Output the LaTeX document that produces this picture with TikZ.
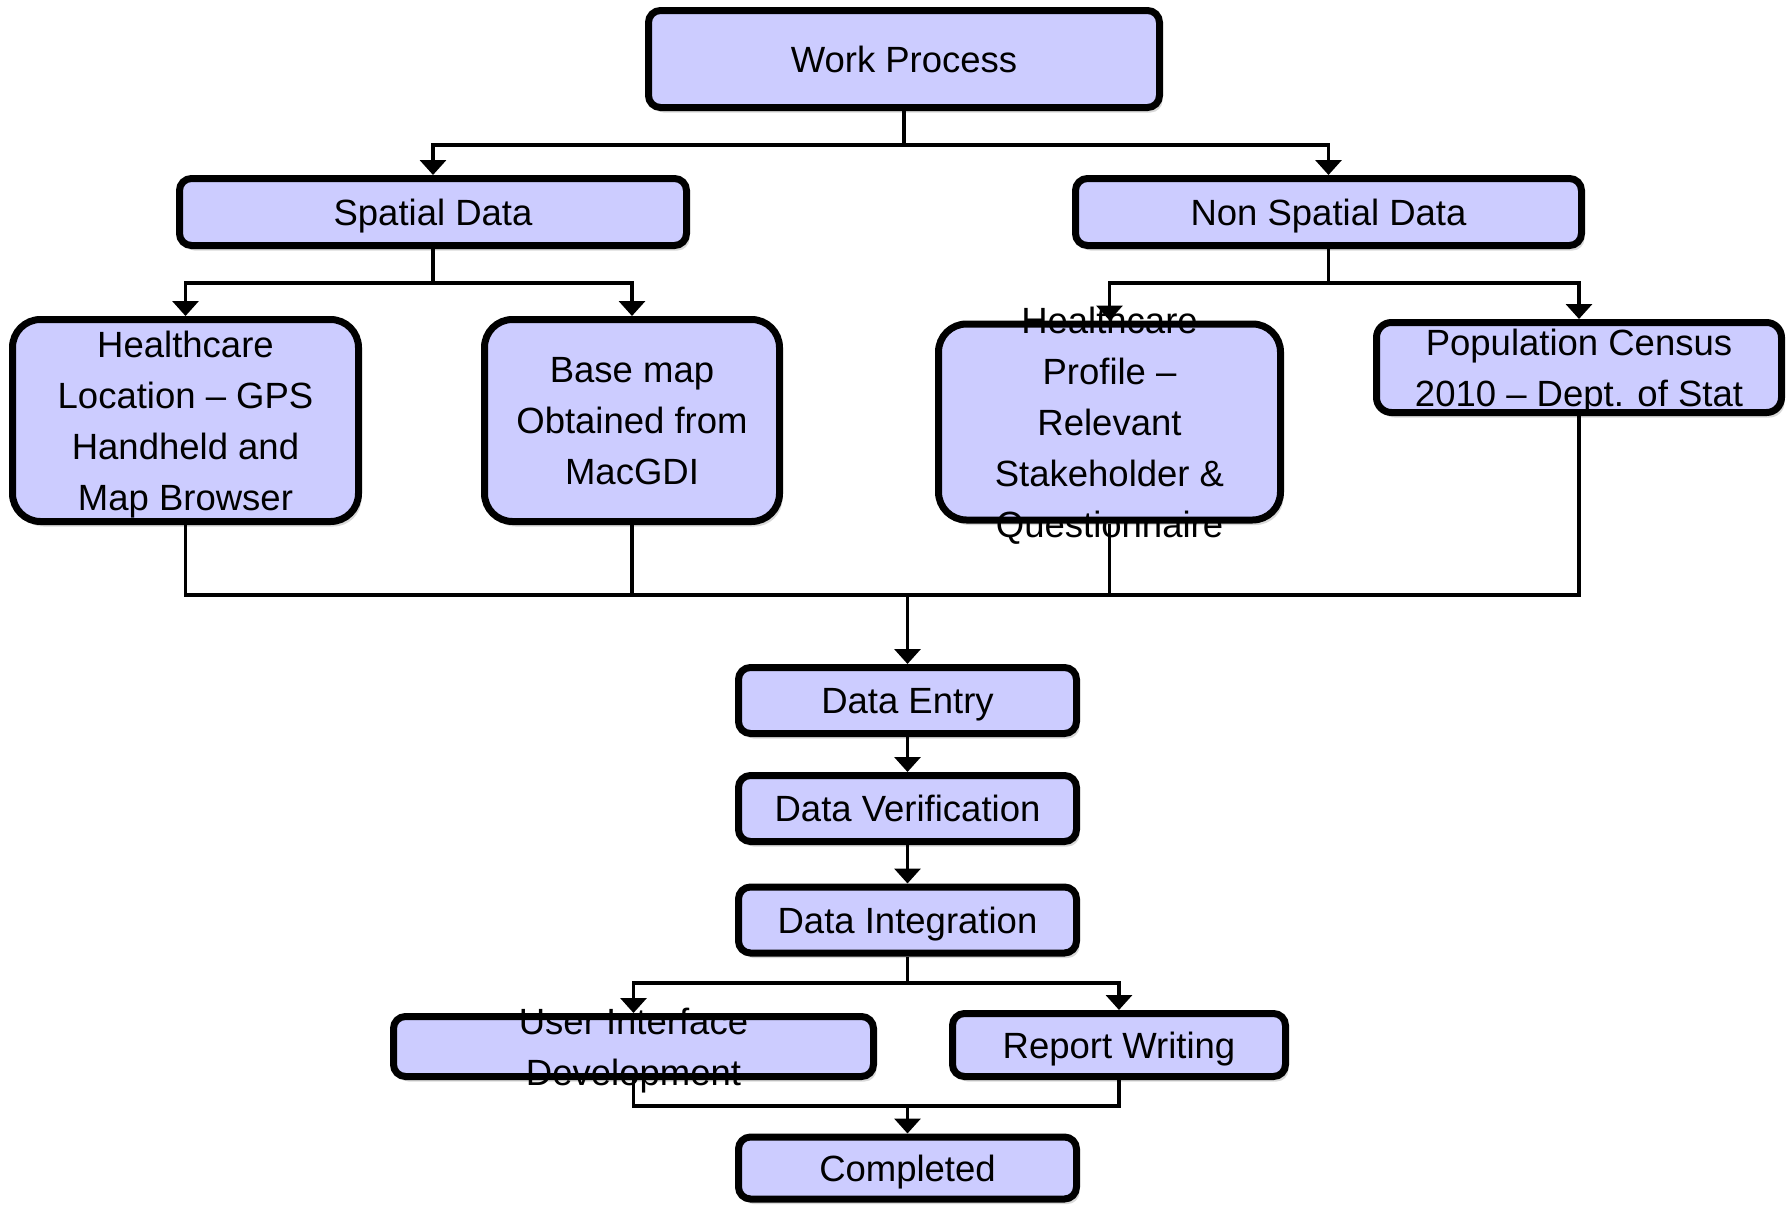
\documentclass[tikz,border=0pt]{standalone}
\usepackage{fontspec}
\setmainfont{Liberation Sans}
\usetikzlibrary{arrows.meta,shadows}
\definecolor{boxfill}{RGB}{204,204,255}
\newcommand\mystrut{\rule[-12.5pt]{0pt}{51pt}}
\begin{document}
\begin{tikzpicture}[x=1pt,y=-1pt,
  box/.style={draw=black, line width=7pt, fill=boxfill, rounded corners=12pt, inner sep=0pt,
    drop shadow={shadow xshift=3pt, shadow yshift=-5pt, opacity=0.3}},
  bigbox/.style={box, rounded corners=28pt},
  lbl/.style={font=\fontsize{36.5}{51}\selectfont, align=center, inner sep=0pt, text=black},
  conn/.style={line width=3.5pt, draw=black},
  arr/.style={conn, -{Triangle[width=26pt,length=15pt]}}]
\useasboundingbox (0,0) rectangle (1792,1205);

% boxes
\node[box, minimum width=511pt, minimum height=97pt] (wp) at (904,59) {};
\node[box, minimum width=507pt, minimum height=67pt] (sd) at (433,212) {};
\node[box, minimum width=506pt, minimum height=67pt] (nsd) at (1328.5,212) {};
\node[bigbox, minimum width=346pt, minimum height=202pt] (hl) at (185.5,420.5) {};
\node[bigbox, minimum width=295pt, minimum height=202pt] (bm) at (632,420.5) {};
\node[bigbox, minimum width=342pt, minimum height=196pt] (hp) at (1109.5,422) {};
\node[box, rounded corners=15pt, minimum width=405pt, minimum height=90pt] (pc) at (1579,367.5) {};
\node[box, minimum width=338pt, minimum height=66pt] (de) at (907.5,700.5) {};
\node[box, minimum width=338pt, minimum height=66pt] (dv) at (907.5,808.5) {};
\node[box, minimum width=338pt, minimum height=66pt] (di) at (907.5,920) {};
\node[box, minimum width=480pt, minimum height=60pt] (ui) at (633.5,1046.5) {};
\node[box, minimum width=333pt, minimum height=63pt] (rw) at (1119,1045) {};
\node[box, minimum width=338pt, minimum height=62pt] (co) at (907.5,1168) {};

% labels
\node[lbl] (wpT) at (wp.center) {\mystrut Work Process};
\node[lbl] (sdT) at (sd.center) {\mystrut Spatial Data};
\node[lbl] (nsdT) at (nsd.center) {\mystrut Non Spatial Data};
\node[lbl] (hlT) at (hl.center) {\mystrut Healthcare\\\mystrut Location – GPS\\\mystrut Handheld and\\\mystrut Map Browser};
\node[lbl] (bmT) at (bm.center) {\mystrut Base map\\\mystrut Obtained from\\\mystrut MacGDI};
\node[lbl] (hpT) at (hp.center) {\mystrut Healthcare\\\mystrut Profile –\\\mystrut Relevant\\\mystrut Stakeholder \&\\\mystrut Questionnaire};
\node[lbl] (pcT) at (pc.center) {\mystrut Population Census\\\mystrut 2010 – Dept. of Stat};
\node[lbl] (deT) at (de.center) {\mystrut Data Entry};
\node[lbl] (dvT) at (dv.center) {\mystrut Data Verification};
\node[lbl] (diT) at (di.center) {\mystrut Data Integration};
\node[lbl] (uiT) at (ui.center) {\mystrut User Interface\\\mystrut Development};
\node[lbl] (rwT) at (rw.center) {\mystrut Report Writing};
\node[lbl] (coT) at (co.center) {\mystrut Completed};

% junctions
\coordinate (j1) at (904,145);
\coordinate (j2) at (433,283);
\coordinate (j3) at (1328.5,283);
\coordinate (m) at (907.5,595);
\coordinate (k) at (907.5,983);
\coordinate (n) at (907.5,1106);

% connectors
\draw[conn] (wp.south) -- (j1);
\draw[arr] (j1) -| (sd.north);
\draw[arr] (j1) -| (nsd.north);
\draw[conn] (sd.south) -- (j2);
\draw[arr] (j2) -| (hl.north);
\draw[arr] (j2) -| (bm.north);
\draw[conn] (nsd.south) -- (j3);
\draw[arr] (j3) -| (hp.north);
\draw[arr] (j3) -| (pc.north);
\draw[conn] (hl.south) |- (m);
\draw[conn] (bm.south) |- (m);
\draw[conn] (hp.south) |- (m);
\draw[conn] (pc.south) |- (m);
\draw[arr] (m) -- (de.north);
\draw[arr] (de.south) -- (dv.north);
\draw[arr] (dv.south) -- (di.north);
\draw[conn] (di.south) -- (k);
\draw[arr] (k) -| (ui.north);
\draw[arr] (k) -| (rw.north);
\draw[conn] (ui.south) |- (n);
\draw[conn] (rw.south) |- (n);
\draw[arr] (n) -- (co.north);
\end{tikzpicture}
\end{document}
